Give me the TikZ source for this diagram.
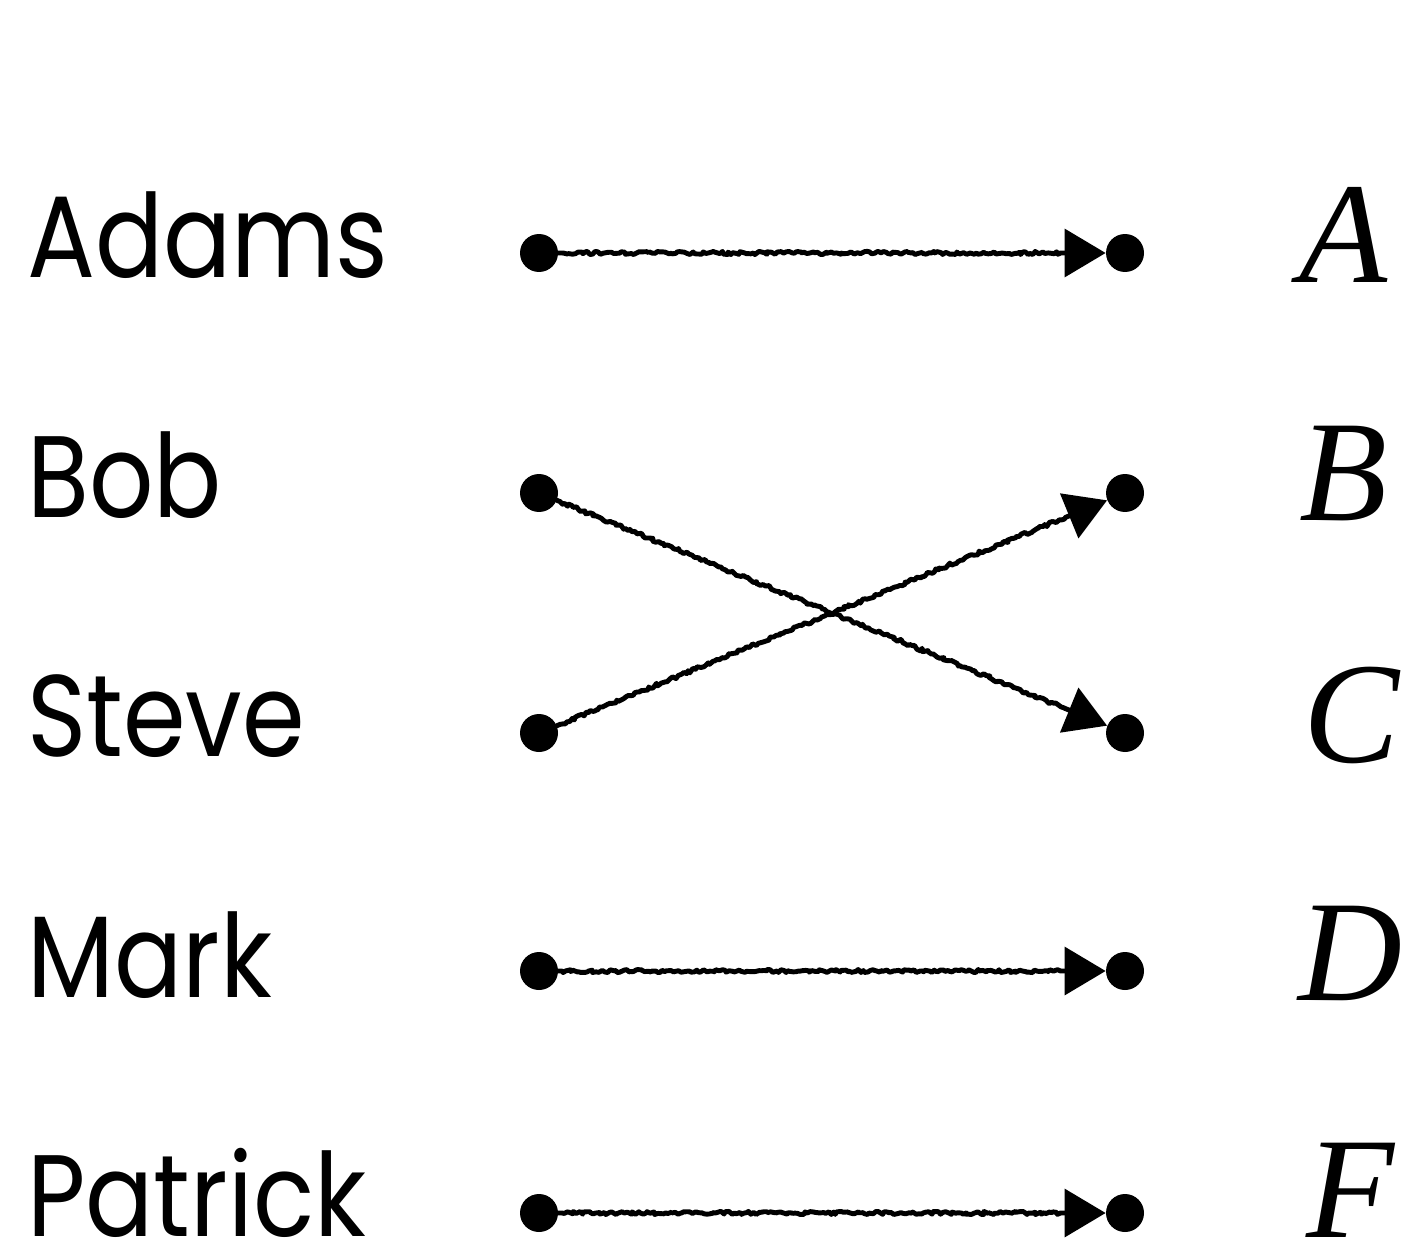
\documentclass[tikz,border=0pt]{standalone}
\usepackage{fontspec}
\setmainfont[FakeStretch=0.87]{Poppins}
\newfontfamily\letterfont{Liberation Serif}
\usetikzlibrary{arrows.meta,decorations.pathmorphing}
\begin{document}
\begin{tikzpicture}[x=0.02cm,y=-0.02cm,
  dot/.style={circle,fill=black,inner sep=0pt,minimum size=0.76cm},
  person/.style={anchor=base west,inner sep=0pt,text depth=0pt,font=\fontsize{66}{78}\selectfont},
  letterlab/.style={anchor=base,inner sep=0pt,text depth=0pt,font=\fontsize{82}{96}\selectfont\letterfont\itshape},
  link/.style={line width=2.8pt,line cap=round,line join=round,
    -{Triangle[length=0.82cm,width=0.95cm]},
    decorate,decoration={random steps,segment length=1.4pt,amplitude=0.9pt,pre length=2pt,post length=0.9cm}}]
  \useasboundingbox (0,0) rectangle (1408,1256);
  % people on the left
  \node[person] (nA) at (27,278) {Adams};
  \node[person] (nB) at (27,517) {Bob};
  \node[person] (nC) at (27,756) {Steve};
  \node[person] (nD) at (27,997) {Mark};
  \node[person] (nF) at (27,1236) {Patrick};
  % letters on the right
  \node[letterlab] (tA) at (1343,283) {A};
  \node[letterlab] (tB) at (1343,520) {B};
  \node[letterlab] (tC) at (1352,762) {C};
  \node[letterlab] (tD) at (1350,1000) {D};
  \node[letterlab] (tF) at (1350,1237) {F};
  % end points
  \node[dot] (l1) at (539,253) {};
  \node[dot] (l2) at (539,493) {};
  \node[dot] (l3) at (539,733) {};
  \node[dot] (l4) at (539,971) {};
  \node[dot] (l5) at (539,1213) {};
  \node[dot] (r1) at (1125,253) {};
  \node[dot] (r2) at (1125,493) {};
  \node[dot] (r3) at (1125,733) {};
  \node[dot] (r4) at (1125,971) {};
  \node[dot] (r5) at (1125,1213) {};
  % mapping
  \draw[link] (l1) -- (r1);
  \draw[link] (l2) -- (r3);
  \draw[link] (l3) -- (r2);
  \draw[link] (l4) -- (r4);
  \draw[link] (l5) -- (r5);
\end{tikzpicture}
\end{document}
